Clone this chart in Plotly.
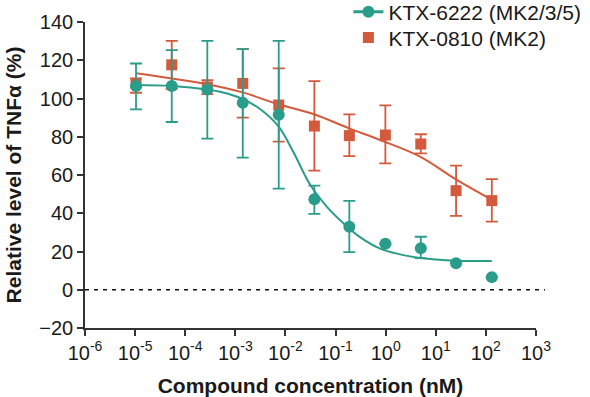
import plotly.graph_objects as go

# ---- data ----
log_conc = [-4.982, -4.269, -3.559, -2.852, -2.134, -1.423, -0.725, -0.006, 0.701, 1.405, 2.118]

teal_name = "KTX-6222 (MK2/3/5)"
teal_y     = [106.5, 106.5, 104.7, 97.8, 91.5, 47.3, 33.0, 24.0, 21.7, 13.9, 6.6]
teal_upper = [118.3, 125.3, 130.1, 125.8, 130.1, 54.4, 46.5, 24.0, 27.7, 13.9, 6.6]
teal_lower = [94.3, 87.7, 79.0, 69.1, 52.9, 39.7, 19.7, 24.0, 16.5, 13.9, 6.6]

red_name = "KTX-0810 (MK2)"
red_y     = [107.9, 117.6, 106.1, 107.9, 96.6, 85.6, 80.6, 80.9, 76.2, 51.8, 46.6]
red_upper = [110.5, 130.1, 109.6, 125.8, 115.7, 109.1, 91.7, 96.4, 81.3, 64.9, 57.8]
red_lower = [103.0, 105.0, 102.3, 90.0, 77.4, 62.3, 69.9, 66.1, 71.3, 38.6, 35.6]

teal_fit_log = [-4.982, -4.269, -3.559, -3.305, -2.846, -2.507, -2.142, -1.842, -1.509,
                -1.176, -0.844, -0.511, -0.112, 0.287, 0.686, 1.419, 2.118]
teal_fit_y   = [107.0, 106.5, 104.7, 103.5, 99.7, 94.5, 85.5, 72.0, 55.0,
                43.5, 34.8, 27.5, 21.5, 18.5, 16.6, 15.2, 15.0]

red_fit_log = [-4.982, -4.269, -3.559, -2.852, -2.142, -1.429, -0.731, -0.112, 0.686, 1.419, 2.118]
red_fit_y   = [113.2, 110.5, 107.5, 103.2, 97.0, 91.8, 84.4, 78.3, 69.6, 57.4, 47.0]

x_tick_exp  = [-6, -5, -4, -3, -2, -1, 0, 1, 2, 3]
x_tick_text = ["10<sup>-6</sup>", "10<sup>-5</sup>", "10<sup>-4</sup>", "10<sup>-3</sup>",
               "10<sup>-2</sup>", "10<sup>-1</sup>", "10<sup>0</sup>", "10<sup>1</sup>",
               "10<sup>2</sup>", "10<sup>3</sup>"]
y_ticks = [-20, 0, 20, 40, 60, 80, 100, 120, 140]

TEAL = "#2a9d8a"
RED = "#d35a3c"
FONT = "Liberation Sans, Arial, sans-serif"

conc = [10 ** v for v in log_conc]
teal_fit_x = [10 ** v for v in teal_fit_log]
red_fit_x = [10 ** v for v in red_fit_log]

fig = go.Figure()

# fitted curves
fig.add_trace(go.Scatter(x=red_fit_x, y=red_fit_y, mode="lines", line=dict(color=RED, width=2, shape="spline"),
                         showlegend=False, hoverinfo="skip"))
fig.add_trace(go.Scatter(x=teal_fit_x, y=teal_fit_y, mode="lines", line=dict(color=TEAL, width=2, shape="spline"),
                         showlegend=False, hoverinfo="skip"))

# red squares with error bars
fig.add_trace(go.Scatter(
    x=conc, y=red_y, mode="markers", name=red_name,
    marker=dict(symbol="square", size=11, color=RED),
    error_y=dict(type="data", symmetric=False,
                 array=[u - v for u, v in zip(red_upper, red_y)],
                 arrayminus=[v - l for v, l in zip(red_y, red_lower)],
                 color=RED, thickness=1.8, width=6),
    showlegend=False))

# teal circles with error bars
fig.add_trace(go.Scatter(
    x=conc, y=teal_y, mode="markers", name=teal_name,
    marker=dict(symbol="circle", size=12, color=TEAL),
    error_y=dict(type="data", symmetric=False,
                 array=[u - v for u, v in zip(teal_upper, teal_y)],
                 arrayminus=[v - l for v, l in zip(teal_y, teal_lower)],
                 color=TEAL, thickness=1.8, width=6),
    showlegend=False))

# legend entries (one legend per entry to control row spacing)
fig.add_trace(go.Scatter(x=[None], y=[None], mode="lines+markers", name=teal_name, legend="legend",
                         line=dict(color=TEAL, width=3), marker=dict(symbol="circle", size=12, color=TEAL)))
fig.add_trace(go.Scatter(x=[None], y=[None], mode="markers", name=red_name, legend="legend2",
                         marker=dict(symbol="square", size=11, color=RED)))

# dashed zero line
fig.add_shape(type="line", xref="paper", x0=0, x1=1.02, yref="y", y0=0, y1=0,
              line=dict(color="#111111", width=1.5, dash="4px,5px"))

legend_style = dict(xanchor="left", yanchor="top", font=dict(size=21, color="#1a1a1a"),
                    bgcolor="rgba(0,0,0,0)", itemsizing="trace")

fig.update_layout(
    width=590, height=397,
    margin=dict(l=85, r=54, t=22, b=69, autoexpand=False),
    paper_bgcolor="white", plot_bgcolor="white",
    font=dict(family=FONT, color="#1a1a1a", size=20),
    legend=dict(x=0.584, y=1.099, **legend_style),
    legend2=dict(x=0.584, y=1.015, **legend_style),
    xaxis=dict(type="log", range=[-6, 3],
               tickvals=[10 ** e for e in x_tick_exp], ticktext=x_tick_text,
               showgrid=False, zeroline=False,
               showline=True, linecolor="#333333", linewidth=1.6,
               ticks="outside", ticklen=6, tickwidth=1.6, tickcolor="#333333",
               tickfont=dict(size=20),
               title=dict(text="<b>Compound concentration (nM)</b>", font=dict(size=21), standoff=16)),
    yaxis=dict(range=[-20, 140], tickvals=y_ticks,
               showgrid=False, zeroline=False,
               showline=True, linecolor="#333333", linewidth=1.6,
               ticks="outside", ticklen=6, tickwidth=1.6, tickcolor="#333333",
               tickfont=dict(size=20),
               title=dict(text="<b>Relative level of TNFα (%)</b>", font=dict(size=21), standoff=12)),
)

fig.write_html("out.html")
